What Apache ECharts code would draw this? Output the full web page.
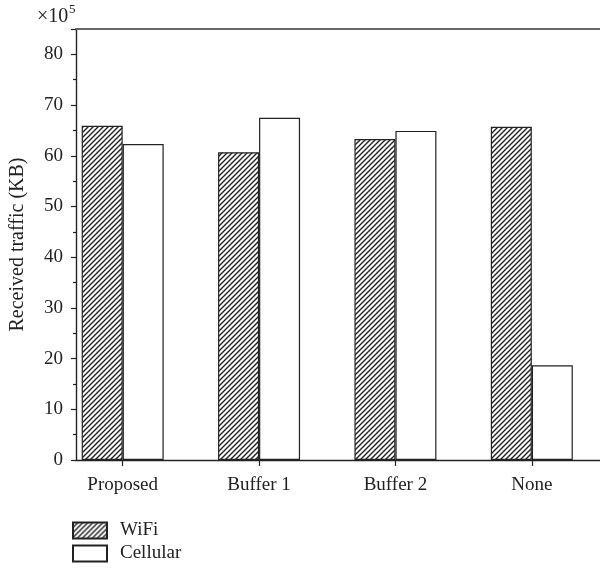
<!DOCTYPE html>
<html>
<head>
<meta charset="utf-8">
<script src="https://cdn.jsdelivr.net/npm/echarts@6/dist/echarts.min.js"></script>
<style>html,body{margin:0;padding:0;background:#fff;}#c{width:600px;height:570px;}</style>
</head>
<body>
<div id="c"></div>
<script>
var categories = ['Proposed', 'Buffer 1', 'Buffer 2', 'None'];
var wifi = [65.9, 60.7, 63.3, 65.7];
var cellular = [62.3, 67.5, 64.9, 18.7];
var seriesNames = ['WiFi', 'Cellular'];
var yMin = 0, yMax = 85, yStep = 10;

function hatch() {
  var c = document.createElement('canvas');
  var s = 5;
  c.width = s; c.height = s;
  var g = c.getContext('2d');
  g.fillStyle = '#ffffff';
  g.fillRect(0, 0, s, s);
  g.strokeStyle = '#222';
  g.lineWidth = 1.4;
  g.beginPath();
  g.moveTo(-1, s + 1); g.lineTo(s + 1, -1);
  g.moveTo(-1, 1); g.lineTo(1, -1);
  g.moveTo(s - 1, s + 1); g.lineTo(s + 1, s - 1);
  g.stroke();
  return c;
}

var font = 'Liberation Serif';
var fs = 19;
var chart = echarts.init(document.getElementById('c'), null, {renderer: 'canvas'});
chart.setOption({
  animation: false,
  textStyle: {fontFamily: font},
  grid: [
    {left: 54.5, width: 548, top: 29, bottom: 110, containLabel: false},
    {left: 72, right: 0, top: 29, bottom: 110, containLabel: false}
  ],
  graphic: [
    {type: 'text', left: 37, top: 7, style: {text: '×10', font: '20px ' + font, fill: '#222'}},
    {type: 'text', left: 69, top: 3, style: {text: '5', font: '13px ' + font, fill: '#222'}}
  ],
  legend: {
    orient: 'vertical', left: 72, top: 521, padding: 0, itemWidth: 34, itemHeight: 16, itemGap: 4,
    icon: 'rect',
    textStyle: {fontFamily: font, fontSize: fs, color: '#222', padding: [0, 0, 0, 8]},
    data: seriesNames
  },
  xAxis: [
    {type: 'category', gridIndex: 0, data: categories, boundaryGap: true,
     axisLine: {show: false},
     axisTick: {show: true, alignWithLabel: true, length: 6, lineStyle: {color: '#222', width: 1.2}},
     axisLabel: {fontFamily: font, fontSize: fs, color: '#222', margin: 16},
     splitLine: {show: false}},
    {type: 'value', gridIndex: 1, min: 0, max: 1, position: 'bottom',
     axisLine: {show: true, lineStyle: {color: '#222', width: 1.4}},
     axisTick: {show: false}, axisLabel: {show: false}, splitLine: {show: false}},
    {type: 'value', gridIndex: 1, min: 0, max: 1, position: 'top',
     axisLine: {show: true, lineStyle: {color: '#666', width: 2}},
     axisTick: {show: false}, axisLabel: {show: false}, splitLine: {show: false}}
  ],
  yAxis: [
    {type: 'value', gridIndex: 0, min: yMin, max: yMax, show: false, splitLine: {show: false}},
    {type: 'value', gridIndex: 1, min: yMin, max: yMax, interval: yStep,
     name: 'Received traffic (KB)', nameLocation: 'middle', nameGap: 48,
     nameTextStyle: {fontFamily: font, fontSize: 20, color: '#222'},
     axisLine: {show: true, lineStyle: {color: '#222', width: 1.4}},
     axisTick: {show: true, length: 5, lineStyle: {color: '#222', width: 1.2}},
     minorTick: {show: true, splitNumber: 2, length: 3, lineStyle: {color: '#222', width: 1.2}},
     axisLabel: {fontFamily: font, fontSize: fs, color: '#222', margin: 13, showMaxLabel: false},
     splitLine: {show: false}}
  ],
  series: [
    {name: seriesNames[0], type: 'bar', xAxisIndex: 0, yAxisIndex: 0, data: wifi,
     barWidth: 41, barGap: '0%',
     itemStyle: {color: {image: hatch(), repeat: 'repeat'}, borderColor: '#222', borderWidth: 1.2}},
    {name: seriesNames[1], type: 'bar', xAxisIndex: 0, yAxisIndex: 0, data: cellular,
     barWidth: 41, barGap: '0%',
     itemStyle: {color: '#ffffff', borderColor: '#222', borderWidth: 1.2}}
  ]
});
</script>
</body>
</html>
